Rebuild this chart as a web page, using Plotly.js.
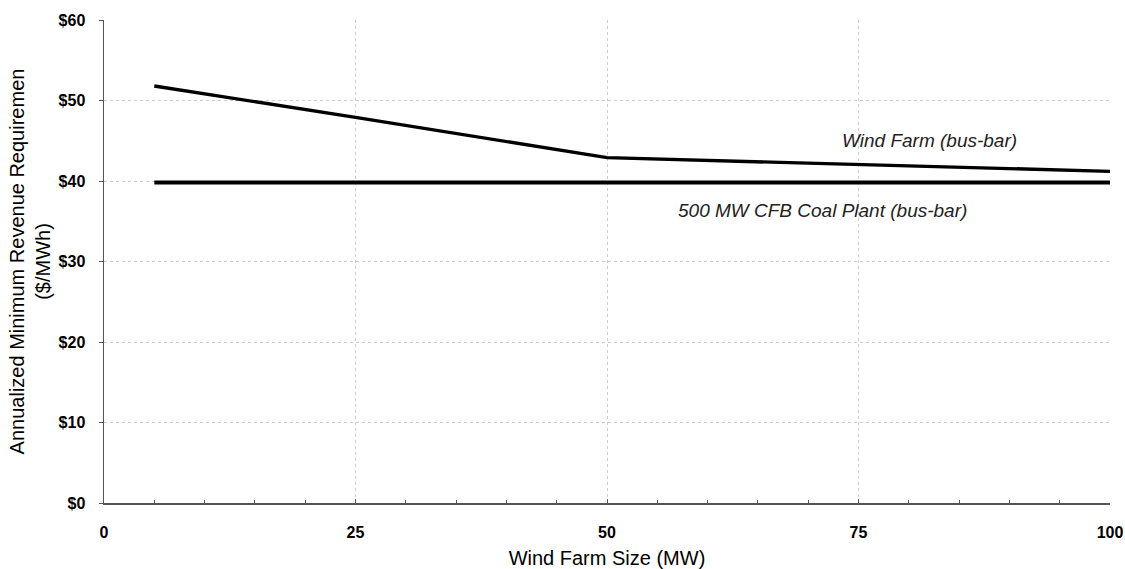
<!DOCTYPE html>
<html>
<head>
<meta charset="utf-8">
<script src="https://cdn.plot.ly/plotly-3.0.1.min.js"></script>
<style>html,body{margin:0;padding:0;background:#fff;}#chart{width:1125px;height:569px;}</style>
</head>
<body>
<div id="chart"></div>
<script>
// Wind farm size (MW)
const windX = [5, 25, 50, 75, 100];
// Annualized minimum revenue requirement, wind farm ($/MWh)
const windY = [51.8, 47.9, 42.9, 42.0, 41.2];
const coalX = [5, 100];
const coalY = [39.8, 39.8];
const xTicks = [0, 25, 50, 75, 100];
const yTicks = [0, 10, 20, 30, 40, 50, 60];
const yTickText = yTicks.map(v => '$' + v);
const windLabel = 'Wind Farm (bus-bar)';
const coalLabel = '500 MW CFB Coal Plant (bus-bar)';

const traces = [
  {x: coalX, y: coalY, mode: 'lines', line: {color: '#000', width: 4}, hoverinfo: 'skip', showlegend: false},
  {x: windX, y: windY, mode: 'lines', line: {color: '#000', width: 3.4}, hoverinfo: 'skip', showlegend: false}
];

const layout = {
  width: 1125, height: 569,
  margin: {l: 104, r: 15, t: 20, b: 66},
  paper_bgcolor: '#fff', plot_bgcolor: '#fff',
  font: {family: 'Liberation Sans, Arial, sans-serif', color: '#000'},
  showlegend: false,
  xaxis: {
    range: [0, 100], tickvals: xTicks, ticktext: xTicks.map(String),
    showline: true, linecolor: '#555', linewidth: 1.5,
    ticks: 'inside', ticklen: 4, tickcolor: '#555', tickwidth: 1,
    ticklabelstandoff: 14,
    minor: {dtick: 5, tick0: 0, ticks: 'inside', ticklen: 3, tickcolor: '#555', showgrid: false},
    showgrid: true, gridcolor: '#cccccc', griddash: '3px,3px', gridwidth: 1,
    zeroline: false,
    tickfont: {size: 16, family: 'Liberation Sans, Arial, sans-serif', weight: 'bold'},
    title: {text: 'Wind Farm Size (MW)', font: {size: 20}, standoff: 11}
  },
  yaxis: {
    range: [0, 60], tickvals: yTicks, ticktext: yTickText,
    showline: true, linecolor: '#555', linewidth: 1.5,
    ticks: 'outside', ticklen: 4, tickcolor: '#555',
    ticklabelstandoff: 10,
    showgrid: true, gridcolor: '#cccccc', griddash: '3px,3px', gridwidth: 1,
    zeroline: false,
    tickfont: {size: 16, family: 'Liberation Sans, Arial, sans-serif', weight: 'bold'},
    title: {text: 'Annualized Minimum Revenue Requiremen<br>($/MWh)', font: {size: 20}, standoff: 2}
  },
  annotations: [
    {x: 82.1, y: 45.0, xref: 'x', yref: 'y', text: windLabel, showarrow: false,
     font: {size: 19, style: 'italic', color: '#222'}},
    {x: 71.4, y: 36.3, xref: 'x', yref: 'y', text: coalLabel, showarrow: false,
     font: {size: 19, style: 'italic', color: '#222'}}
  ]
};

Plotly.newPlot('chart', traces, layout, {staticPlot: true, displayModeBar: false});
</script>
</body>
</html>
